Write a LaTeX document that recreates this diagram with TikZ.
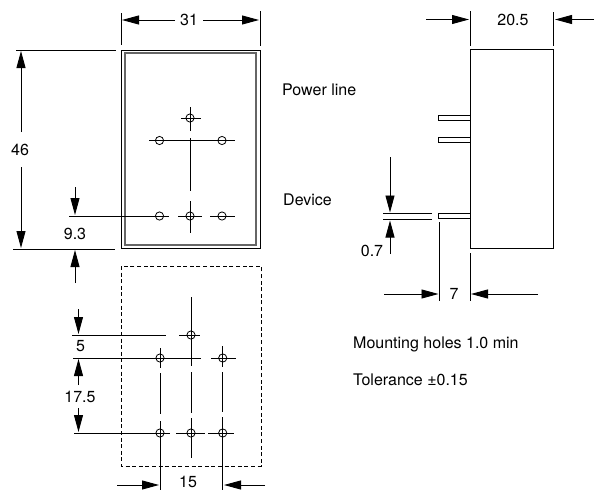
\documentclass[tikz,border=0pt]{standalone}
\usepackage{fontspec}
\setmainfont{TeX Gyre Heros}
\usetikzlibrary{arrows.meta}
\tikzset{
	dim/.style={fill=none, line width=0.9pt, -{Triangle[length=17pt,width=9pt]}},
	line/.style={fill=none, line width=0.9pt},
	hole/.style={draw=black, shape=circle, line width=0.8pt, inner sep=0pt, minimum size=8.2pt},
	txt/.style={inner sep=0pt, align=center, font=\fontsize{16}{19}\selectfont},
	note/.style={txt, anchor=west}
}
\begin{document}
\begin{tikzpicture}[x=1pt, y=-1pt]
	\clip (0, 0) rectangle (599, 490);
	\useasboundingbox (0, 0) rectangle (599, 490);
	% front view
	\draw [line] (121, 50) rectangle (260, 248);
	\draw [line, line width=1.2pt, black!60] (125, 53) rectangle (256, 245);
	\node [hole] (h1) at (190, 118) {};
	\node [hole] (h2) at (159.5, 140.5) {};
	\node [hole] (h3) at (222, 140.5) {};
	\node [hole] (h4) at (159.5, 216) {};
	\node [hole] (h5) at (190, 216) {};
	\node [hole] (h6) at (222, 216) {};
	\draw [line] (181, 118) -- (201, 118);
	\draw [line] (190, 107) -- (190, 131);
	\draw [line] (149, 140.5) -- (235, 140.5);
	\draw [line] (190, 138) -- (190, 191);
	\draw [line] (69, 216) -- (169, 216);
	\draw [line] (178, 216) -- (202, 216);
	\draw [line] (210, 216) -- (235, 216);
	\draw [line] (190, 201) -- (190, 233);
	% front view dimensions
	\draw [line] (121, 13) -- (121, 45);
	\draw [line] (260, 11) -- (260, 46);
	\draw [line] (16, 50) -- (116, 50);
	\draw [line] (13, 249) -- (115, 249);
	\node [txt] (w31) at (189, 20) {31};
	\node [txt] (h46) at (20, 150) {46};
	\node [txt] (d93) at (75, 234) {9.3};
	\draw [dim] (175, 20) -- (122, 20);
	\draw [dim] (203, 20) -- (259, 20);
	\draw [dim] (21, 132) -- (21, 51);
	\draw [dim] (21, 167) -- (21, 248);
	\draw [dim] (75, 187) -- (75, 215);
	\draw [dim] (75, 283) -- (75, 250);
	% drilling pattern
	\draw [line, dashed, dash pattern=on 4pt off 2.6pt] (121, 266) rectangle (261, 466);
	\node [hole] (p1) at (191, 335) {};
	\node [hole] (p2) at (160, 358) {};
	\node [hole] (p3) at (222.7, 358) {};
	\node [hole] (p4) at (160, 433) {};
	\node [hole] (p5) at (191, 433) {};
	\node [hole] (p6) at (222.7, 433) {};
	\draw [line] (72, 335) -- (166, 335);
	\draw [line] (179, 335) -- (200, 335);
	\draw [line] (73, 358) -- (201, 358);
	\draw [line] (211, 358) -- (236, 358);
	\draw [line] (74, 433) -- (170, 433);
	\draw [line] (176, 433) -- (205, 433);
	\draw [line] (208, 433) -- (234, 433);
	\draw [line] (160, 348) -- (160, 368);
	\draw [line] (160, 373) -- (160, 414);
	\draw [line] (160, 421) -- (160, 490);
	\draw [line] (191, 297) -- (191, 366);
	\draw [line] (191, 372) -- (191, 413);
	\draw [line] (191, 418) -- (191, 458);
	\draw [line] (222.7, 346) -- (222.7, 367);
	\draw [line] (222.7, 372) -- (222.7, 412);
	\draw [line] (222.7, 417) -- (222.7, 490);
	% drilling pattern dimensions
	\node [txt] (d5) at (80.5, 346.5) {5};
	\node [txt] (d175) at (80, 397) {17.5};
	\node [txt] (d15) at (188, 481.5) {15};
	\draw [dim] (78.5, 309) -- (78.5, 334);
	\draw [dim] (78.5, 385) -- (78.5, 359);
	\draw [dim] (78.5, 408) -- (78.5, 432);
	\draw [dim] (117, 485) -- (159, 485);
	\draw [dim] (265, 485) -- (224, 485);
	% side view
	\draw [line] (470, 49.5) rectangle (553.5, 248.5);
	\draw [line] (438.5, 115.5) rectangle (470, 120.5);
	\draw [line] (438.5, 137) rectangle (470, 142);
	\draw [line] (438.5, 213.7) rectangle (470, 218.7);
	% side view dimensions
	\draw [line] (470, 11) -- (470, 46);
	\draw [line] (553.5, 12) -- (553.5, 46);
	\draw [line] (383, 213.5) -- (432, 213.5);
	\draw [line] (383, 219.5) -- (432, 219.5);
	\draw [line] (439.5, 222) -- (439.5, 301);
	\draw [line] (470, 253) -- (470, 301);
	\node [txt] (d205) at (513, 20) {20.5};
	\node [txt] (d07) at (372, 251) {0.7};
	\node [txt] (d7) at (454, 294) {7};
	\draw [dim] (426, 19.5) -- (469, 19.5);
	\draw [dim] (594, 19.5) -- (555, 19.5);
	\draw [dim] (390, 157) -- (390, 212.5);
	\draw [dim] (390, 254) -- (390, 220.5);
	\draw [dim] (384, 294) -- (438.5, 294);
	\draw [dim] (538, 294) -- (471, 294);
	% notes
	\node [note] (n1) at (282, 90) {Power line};
	\node [note] (n2) at (283, 200) {Device};
	\node [note] (n3) at (353, 344) {Mounting holes 1.0 min};
	\node [note] (n4) at (353, 380) {Tolerance ±0.15};
\end{tikzpicture}
\end{document}
